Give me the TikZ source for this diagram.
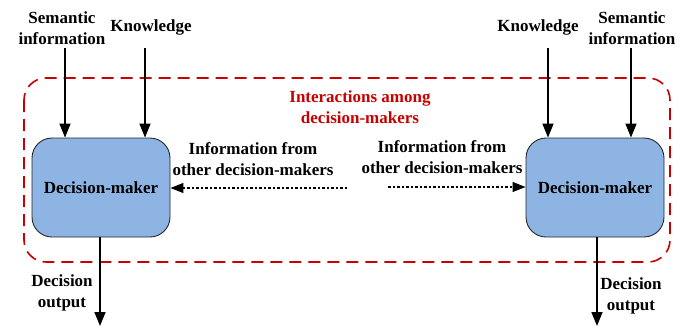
\documentclass[tikz,border=0pt]{standalone}
\usepackage{fontspec}
\setmainfont{Liberation Serif}
\usetikzlibrary{arrows.meta}
\definecolor{boxblue}{RGB}{142,180,227}
\definecolor{darkred}{RGB}{200,0,0}
\begin{document}
\begin{tikzpicture}[x=1pt,y=-1pt,
  lbl/.style={font=\fontsize{17}{21}\selectfont\bfseries, align=center, inner sep=0pt},
  dm/.style={draw=black!85, line width=0.9pt, fill=boxblue, rounded corners=20pt, minimum width=138pt, minimum height=99pt, font=\fontsize{17}{21}\selectfont\bfseries, inner sep=0pt},
  arr/.style={line width=1.6pt, -{Triangle[length=14pt,width=11pt]}},
  darr/.style={line width=1.2pt, dash pattern=on 2.5pt off 2pt, -{Triangle[length=13pt,width=10pt]}},
  grp/.style={draw=darkred, line width=1.6pt, dash pattern=on 12pt off 7pt, rounded corners=22pt}]
\useasboundingbox (0,0) rectangle (697,325);
% group
\draw[grp] (24,78) rectangle (670,262);
\node[lbl, text=darkred] (inter) at (360,107) {Interactions among\\decision-makers};
% boxes
\node[dm] (L) at (101,187.5) {Decision-maker};
\node[dm] (R) at (595,187.5) {Decision-maker};
% top labels
\node[lbl] (semL) at (62,28) {Semantic\\information};
\node[lbl] (knL) at (151,27) {Knowledge};
\node[lbl] (knR) at (538,27) {Knowledge};
\node[lbl] (semR) at (632,28) {Semantic\\information};
\coordinate (semLs) at (65,48);
\coordinate (knLs) at (145,48);
\coordinate (knRs) at (548,48);
\coordinate (semRs) at (631,48);
\draw[arr] (semLs) -- (semLs |- L.north);
\draw[arr] (knLs) -- (knLs |- L.north);
\draw[arr] (knRs) -- (knRs |- R.north);
\draw[arr] (semRs) -- (semRs |- R.north);
% info from others
\node[lbl] (infL) at (253,159) {Information from\\other decision-makers};
\node[lbl] (infR) at (442,157) {Information from\\other decision-makers};
\coordinate (dL) at (347,188);
\coordinate (dR) at (388,187);
\draw[darr] (dL) -- (L.east |- dL);
\draw[darr] (dR) -- (R.west |- dR);
% outputs
\coordinate (oL) at (100,326);
\coordinate (oR) at (597,326);
\draw[arr] (oL |- L.south) -- (oL);
\draw[arr] (oR |- R.south) -- (oR);
\node[lbl] (outL) at (62,293) {Decision\\output};
\node[lbl] (outR) at (631,296) {Decision\\output};
\end{tikzpicture}
\end{document}
